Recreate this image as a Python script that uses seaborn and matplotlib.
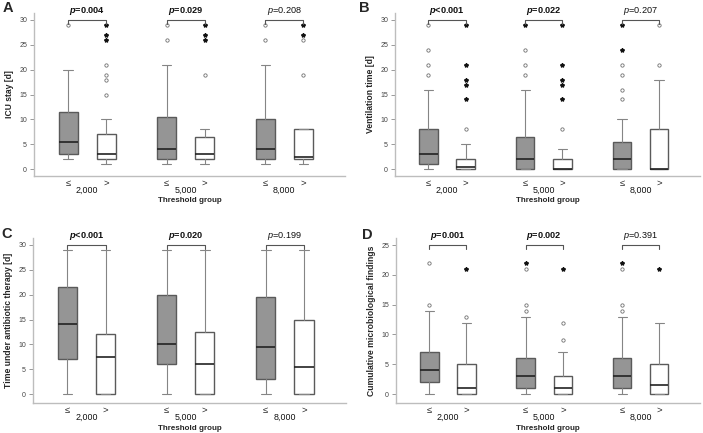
import numpy as np
import matplotlib.pyplot as plt
import seaborn as sns

groups = ["2,000", "5,000", "8,000"]
sides = ["≤", ">"]

# box stats per box (≤ 2,000, > 2,000, ≤ 5,000, > 5,000, ≤ 8,000, > 8,000):
# whisker low, Q1, median, Q3, whisker high
icu_stats = [[2, 3, 5.5, 11.5, 20], [1, 2, 3, 7, 10],
             [1, 2, 4, 10.5, 21], [1, 2, 3, 6.5, 8],
             [1, 2, 4, 10, 21], [1, 2, 2.5, 8, 8]]
icu_circles = [[29], [15, 18, 19, 21], [26, 29], [19], [26, 29], [19, 26]]
icu_stars = [[], [26, 27, 29], [], [26, 27, 29], [], [27, 29]]
icu_p = ["=0.004", "=0.029", "=0.208"]

vent_stats = [[0, 1, 3, 8, 16], [0, 0, 0.5, 2, 5],
              [0, 0, 2, 6.5, 16], [0, 0, 0, 2, 4],
              [0, 0, 2, 5.5, 10], [0, 0, 0, 8, 18]]
vent_circles = [[19, 21, 24, 29], [8], [19, 21, 24], [8], [14, 16, 19, 21], [21, 29]]
vent_stars = [[], [14, 17, 18, 21, 29], [29], [14, 17, 18, 21, 29], [24, 29], []]
vent_p = ["<0.001", "=0.022", "=0.207"]

abx_stats = [[0, 7, 14, 21.5, 29], [0, 0, 7.5, 12, 29],
             [0, 6, 10, 20, 29], [0, 0, 6, 12.5, 29],
             [0, 3, 9.5, 19.5, 29], [0, 0, 5.5, 15, 29]]
abx_circles = [[], [], [], [], [], []]
abx_stars = [[], [], [], [], [], []]
abx_p = ["<0.001", "=0.020", "=0.199"]

micro_stats = [[0, 2, 4, 7, 14], [0, 0, 1, 5, 12],
               [0, 1, 3, 6, 13], [0, 0, 1, 3, 7],
               [0, 1, 3, 6, 13], [0, 0, 1.5, 5, 12]]
micro_circles = [[15, 22], [13], [14, 15, 21], [9, 12], [14, 15, 21], []]
micro_stars = [[], [21], [22], [21], [22], [21]]
micro_p = ["=0.001", "=0.002", "=0.391"]

significant = [True, True, False]

sns.set_style("white")
plt.rcParams["font.family"] = ["Liberation Sans", "DejaVu Sans"]
plt.rcParams["mathtext.fontset"] = "custom"
plt.rcParams["mathtext.it"] = "Liberation Sans:italic"
plt.rcParams["mathtext.bfit"] = "Liberation Sans:bold:italic"

positions = [0, 1, 2.6, 3.6, 5.2, 6.2]
fill_colors = ["#959595", "white"] * 3


def drawPanel(ax, stats, circles, stars, pvals, ylabel, ymax, ylim, yticks):
    bxp_stats = []
    for s in stats:
        bxp_stats.append({"whislo": s[0], "q1": s[1], "med": s[2],
                          "q3": s[3], "whishi": s[4], "fliers": []})
    res = ax.bxp(bxp_stats, positions=positions, widths=0.5,
                 patch_artist=True, showfliers=False,
                 boxprops=dict(edgecolor="#5a5a5a", linewidth=1.0),
                 medianprops=dict(color="#222222", linewidth=1.2),
                 whiskerprops=dict(color="#858585", linewidth=0.8),
                 capprops=dict(color="#858585", linewidth=0.8))
    for patch, c in zip(res["boxes"], fill_colors):
        patch.set_facecolor(c)
    for x, vals in zip(positions, circles):
        ax.plot([x] * len(vals), vals, "o", ms=2.4, mfc="white",
                mec="#707070", mew=0.6, ls="none")
    for x, vals in zip(positions, stars):
        ax.plot([x] * len(vals), vals, "*", ms=3.0, color="#111111",
                ls="none")

    drop = (ylim[1] - ylim[0]) * 0.022
    for g in range(3):
        x0, x1 = positions[2 * g], positions[2 * g + 1]
        ax.plot([x0, x0, x1, x1], [ymax - drop, ymax, ymax, ymax - drop],
                color="#555555", lw=0.8, clip_on=False)
        if significant[g]:
            txt = r"$\mathbfit{p}$" + pvals[g]
            weight = "bold"
        else:
            txt = r"$\mathit{p}$" + pvals[g]
            weight = "normal"
        ax.annotate(txt, xy=((x0 + x1) / 2, ymax), xytext=(0, 2),
                    textcoords="offset points", ha="center", va="bottom",
                    fontsize=6.6, fontweight=weight, color="#111111",
                    annotation_clip=False)

    ax.set_xlim(-0.9, 7.3)
    ax.set_ylim(*ylim)
    ax.set_yticks(yticks)
    ax.tick_params(axis="y", labelsize=5.0, labelcolor="#444444",
                   color="#999999", length=3, width=0.7, left=True, pad=2)
    ax.set_xticks(positions, labels=sides * 3)
    ax.tick_params(axis="x", labelsize=6.8, length=0, pad=2)
    for g, name in enumerate(groups):
        xc = (positions[2 * g] + positions[2 * g + 1]) / 2
        ax.annotate(name, xy=(xc, 0), xycoords=("data", "axes fraction"),
                    xytext=(0, -10), textcoords="offset points",
                    ha="center", va="center", fontsize=6.4, color="#111111")
    ax.annotate("Threshold group", xy=(0.5, 0), xycoords="axes fraction",
                xytext=(0, -18), textcoords="offset points", ha="center",
                va="center", fontsize=5.8, fontweight="bold")
    ax.set_ylabel(ylabel, fontsize=6.2, fontweight="bold", labelpad=4)
    for side in ["top", "right"]:
        ax.spines[side].set_visible(False)
    for side in ["left", "bottom"]:
        ax.spines[side].set_color("#bdbdbd")
        ax.spines[side].set_linewidth(1.0)


fig = plt.figure(figsize=(7.03, 4.33), dpi=100)
W, H = 703.0, 433.0


def panelAxes(left, right, top, bottom):
    return fig.add_axes([left / W, 1 - bottom / H, (right - left) / W,
                         (bottom - top) / H])


axA = panelAxes(34, 345, 13, 176)
axB = panelAxes(395, 700, 13, 176)
axC = panelAxes(33, 346, 238, 403)
axD = panelAxes(396, 700, 238, 403)

drawPanel(axA, icu_stats, icu_circles, icu_stars, icu_p, "ICU stay [d]",
          30, (-1.4, 31.4), [0, 5, 10, 15, 20, 25, 30])
drawPanel(axB, vent_stats, vent_circles, vent_stars, vent_p,
          "Ventilation time [d]", 30, (-1.4, 31.4),
          [0, 5, 10, 15, 20, 25, 30])
drawPanel(axC, abx_stats, abx_circles, abx_stars, abx_p,
          "Time under antibiotic therapy [d]", 30, (-1.8, 31.4),
          [0, 5, 10, 15, 20, 25, 30])
drawPanel(axD, micro_stats, micro_circles, micro_stars, micro_p,
          "Cumulative microbiological findings", 25, (-1.5, 26.2),
          [0, 5, 10, 15, 20, 25])

for letter, (px, py) in zip("ABCD", [(8, 8), (364, 8), (7, 234), (367, 235)]):
    fig.text(px / W, 1 - py / H, letter, fontsize=10.5, fontweight="bold",
             ha="center", va="center")

fig.savefig("out.png", dpi=100)
